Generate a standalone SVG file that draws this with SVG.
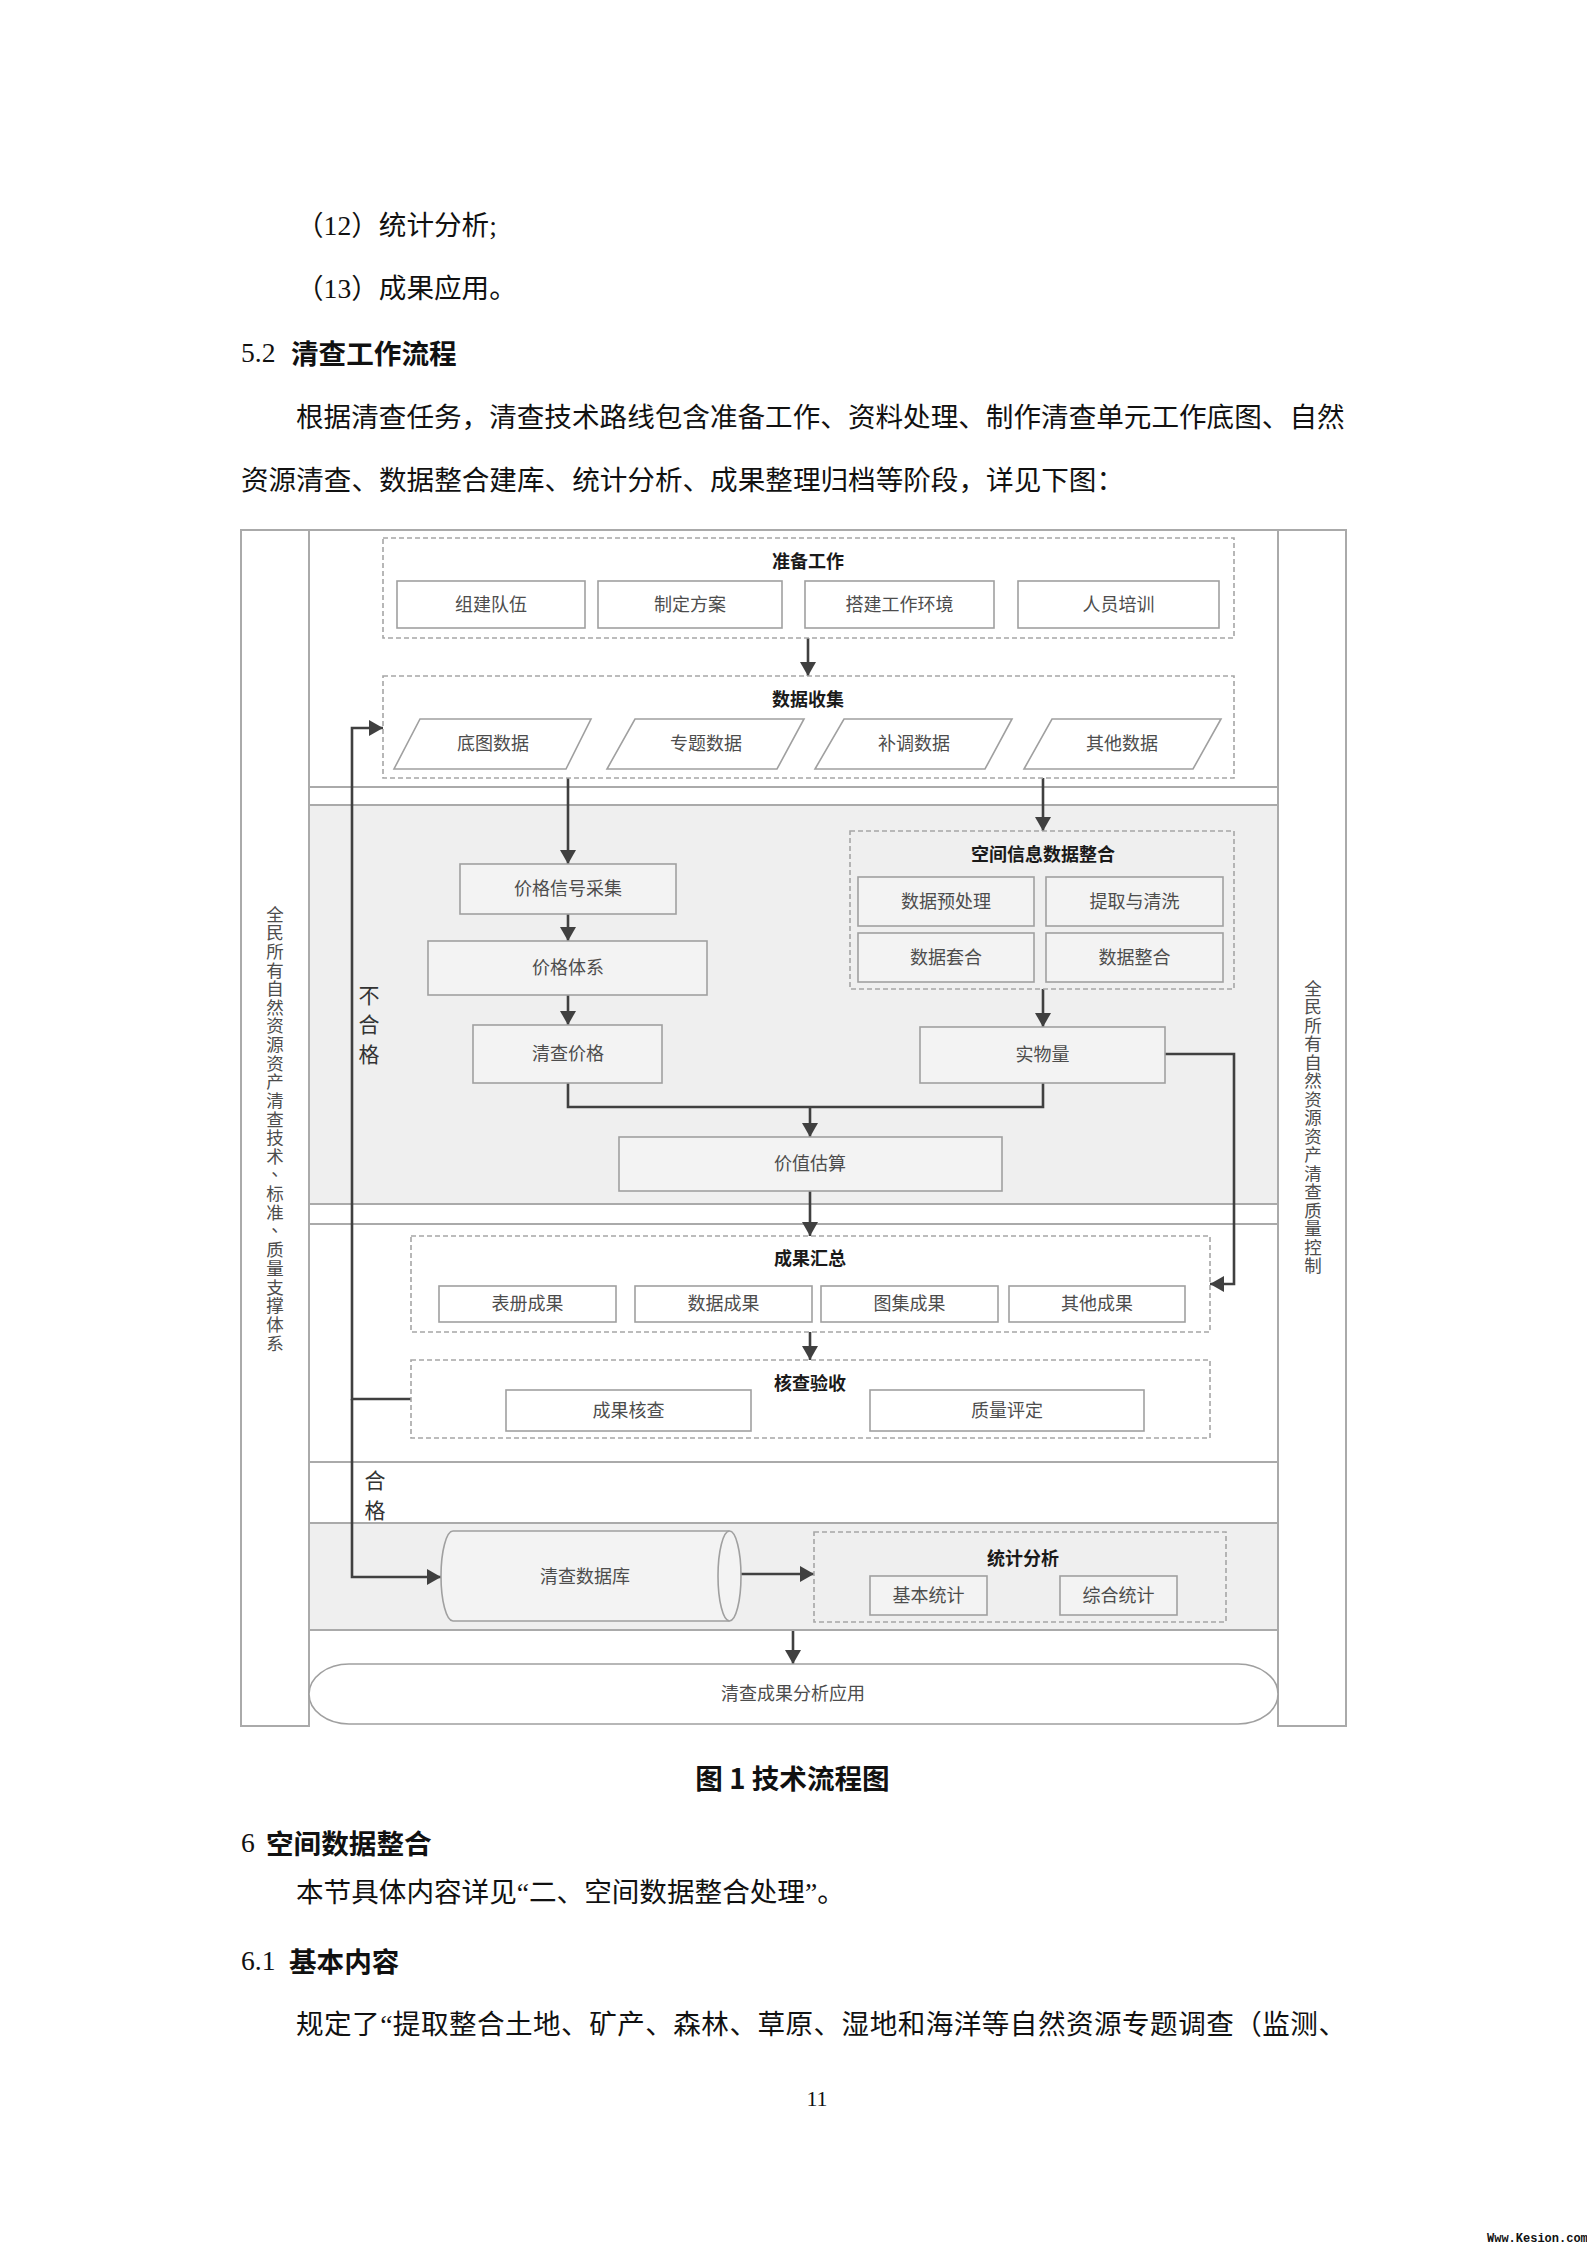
<svg xmlns="http://www.w3.org/2000/svg" width="1587" height="2245" viewBox="0 0 1587 2245">
<style>
.body{font-family:"Liberation Serif","Noto Sans CJK SC",serif;font-size:27.6px;fill:#111;dominant-baseline:central}
.head{font-family:"Noto Sans CJK SC","Liberation Sans",sans-serif;font-size:27.6px;font-weight:bold;fill:#111;dominant-baseline:central}
.headn{font-family:"Liberation Serif",serif;font-size:27.6px;fill:#111;dominant-baseline:central}
.frame{fill:none;stroke:#aaaaaa;stroke-width:2}
.band{fill:#efefef}
.box{fill:#ffffff;stroke:#a0a0a0;stroke-width:1.6}
.gbox{fill:#f3f3f3;stroke:#a0a0a0;stroke-width:1.6}
.dash{fill:none;stroke:#a6a6a6;stroke-width:1.6;stroke-dasharray:5 3}
.lbl{font-family:"Liberation Serif","Noto Sans CJK SC",serif;font-size:18px;fill:#4d4d4d;text-anchor:middle;dominant-baseline:central}
.ttl{font-family:"Noto Sans CJK SC","Liberation Sans",sans-serif;font-size:18px;font-weight:bold;fill:#1a1a1a;text-anchor:middle;dominant-baseline:central}
.vt{font-family:"Noto Sans CJK SC","Liberation Serif",serif;font-size:17.5px;fill:#4d4d4d;text-anchor:middle;dominant-baseline:central}
.ft{font-family:"Liberation Serif","Noto Sans CJK SC",serif;font-size:21px;fill:#333;text-anchor:middle;dominant-baseline:central}
.conn{fill:none;stroke:#404040;stroke-width:2.6}
.arr{fill:none;stroke:#404040;stroke-width:2.6;marker-end:url(#ah)}
</style>
<defs>
<marker id="ah" markerUnits="userSpaceOnUse" markerWidth="16" markerHeight="18" refX="14" refY="8" orient="auto">
<path d="M0,0 L14,8 L0,16 Z" fill="#404040"/>
</marker>
</defs>
<rect x="0" y="0" width="1587" height="2245" fill="#ffffff"/>

<g id="page-text">
<text class="body" x="296" y="225">（12）统计分析;</text>
<text class="body" x="296" y="288">（13）成果应用。</text>
<text class="headn" x="241" y="352">5.2</text>
<text class="head" x="291" y="352">清查工作流程</text>
<text class="body" x="296" y="417">根据清查任务，清查技术路线包含准备工作、资料处理、制作清查单元工作底图、自然</text>
<text class="body" x="241" y="480">资源清查、数据整合建库、统计分析、成果整理归档等阶段，详见下图：</text>
<text class="head" x="792.5" y="1777" text-anchor="middle">图 1 技术流程图</text>
<text class="headn" x="241" y="1842">6</text>
<text class="head" x="266" y="1842">空间数据整合</text>
<text class="body" x="296" y="1892">本节具体内容详见“二、空间数据整合处理”。</text>
<text class="headn" x="241" y="1960">6.1</text>
<text class="head" x="289" y="1960">基本内容</text>
<text class="body" x="296" y="2024" textLength="1050" lengthAdjust="spacing">规定了“提取整合土地、矿产、森林、草原、湿地和海洋等自然资源专题调查（监测、</text>
<text x="817" y="2098" font-family="Liberation Serif, serif" font-size="22" fill="#111" text-anchor="middle" dominant-baseline="central">11</text>
<text x="1487" y="2242" font-family="Liberation Mono, monospace" font-size="12" font-weight="bold" fill="#111">Www.Kesion.com</text>
</g>

<g id="frame">
<rect class="band" x="309" y="805" width="969" height="399"/>
<rect class="band" x="309" y="1523" width="969" height="107"/>
<line class="frame" x1="241" y1="530" x2="1346" y2="530"/>
<rect class="frame" x="241" y="530" width="68" height="1196"/>
<rect class="frame" x="1278" y="530" width="68" height="1196"/>
<line class="frame" x1="309" y1="787" x2="1278" y2="787"/>
<line class="frame" x1="309" y1="805" x2="1278" y2="805"/>
<line class="frame" x1="309" y1="1204" x2="1278" y2="1204"/>
<line class="frame" x1="309" y1="1224" x2="1278" y2="1224"/>
<line class="frame" x1="309" y1="1462" x2="1278" y2="1462"/>
<line class="frame" x1="309" y1="1523" x2="1278" y2="1523"/>
<line class="frame" x1="309" y1="1630" x2="1278" y2="1630"/>
<text class="vt" x="275 275 275 275 275 275 275 275 275 275 275 275 275 275 280 275 275 280 275 275 275 275 275 275" y="913 931.7 950.3 969 987.6 1006.3 1024.9 1043.6 1062.2 1080.9 1099.5 1118.2 1136.8 1155.5 1168 1192.8 1211.4 1224 1248.7 1267.4 1286 1304.7 1323.3 1342">全民所有自然资源资产清查技术、标准、质量支撑体系</text>
<text class="vt" x="1313 1313 1313 1313 1313 1313 1313 1313 1313 1313 1313 1313 1313 1313 1313 1313" y="987 1005.5 1024 1042.5 1061 1079.5 1098 1116.5 1135 1153.5 1172 1190.5 1209 1227.5 1246 1264.5">全民所有自然资源资产清查质量控制</text>
</g>

<g id="connectors">
<path class="arr" d="M808,638 V676"/>
<path class="arr" d="M568,778 V864"/>
<path class="arr" d="M1043,778 V831"/>
<path class="arr" d="M568,914 V941"/>
<path class="arr" d="M568,995 V1025"/>
<path class="arr" d="M1043,989 V1027"/>
<path class="conn" d="M568,1083 V1107 H1043 V1083"/>
<path class="arr" d="M810,1107 V1137"/>
<path class="arr" d="M810,1191 V1236"/>
<path class="arr" d="M1165,1054 H1234 V1284 H1210"/>
<path class="arr" d="M810,1332 V1360"/>
<path class="arr" d="M411,1399 H352 V728 H383"/>
<path class="arr" d="M352,1399 V1577 H441"/>
<path class="arr" d="M741,1574 H814"/>
<path class="arr" d="M793,1631 V1664"/>
<text class="ft" x="369 369 369" y="996 1025 1055">不合格</text>
<text class="ft" x="375 375" y="1481 1511">合格</text>
</g>

<g id="zhunbei">
<rect class="dash" x="383" y="538" width="851" height="100"/>
<text class="ttl" x="808" y="560">准备工作</text>
<rect class="box" x="397" y="581" width="188" height="47"/>
<text class="lbl" x="491" y="604.5">组建队伍</text>
<rect class="box" x="598" y="581" width="184" height="47"/>
<text class="lbl" x="690" y="604.5">制定方案</text>
<rect class="box" x="805" y="581" width="189" height="47"/>
<text class="lbl" x="899.5" y="604.5">搭建工作环境</text>
<rect class="box" x="1018" y="581" width="201" height="47"/>
<text class="lbl" x="1118.5" y="604.5">人员培训</text>
</g>

<g id="shujushouji">
<rect class="dash" x="383" y="676" width="851" height="102"/>
<text class="ttl" x="808" y="698">数据收集</text>
<polygon class="box" points="420,719 591,719 566,769 394,769"/>
<text class="lbl" x="493" y="744">底图数据</text>
<polygon class="box" points="635,719 804,719 777,769 607,769"/>
<text class="lbl" x="706" y="744">专题数据</text>
<polygon class="box" points="844,719 1012,719 985,769 815,769"/>
<text class="lbl" x="914" y="744">补调数据</text>
<polygon class="box" points="1052,719 1221,719 1193,769 1024,769"/>
<text class="lbl" x="1122" y="744">其他数据</text>
</g>

<g id="jiagexinhao">
<rect class="gbox" x="460" y="864" width="216" height="50"/>
<text class="lbl" x="568" y="889">价格信号采集</text>
</g>
<g id="jiagetixi">
<rect class="gbox" x="428" y="941" width="279" height="54"/>
<text class="lbl" x="568" y="968">价格体系</text>
</g>
<g id="qingchajiage">
<rect class="gbox" x="473" y="1025" width="189" height="58"/>
<text class="lbl" x="568" y="1054">清查价格</text>
</g>

<g id="kongjian">
<rect class="dash" x="850" y="831" width="384" height="158"/>
<text class="ttl" x="1043" y="853">空间信息数据整合</text>
<rect class="gbox" x="858" y="877" width="176" height="49"/>
<text class="lbl" x="946" y="901.5">数据预处理</text>
<rect class="gbox" x="1046" y="877" width="177" height="49"/>
<text class="lbl" x="1134.5" y="901.5">提取与清洗</text>
<rect class="gbox" x="858" y="933" width="176" height="49"/>
<text class="lbl" x="946" y="957.5">数据套合</text>
<rect class="gbox" x="1046" y="933" width="177" height="49"/>
<text class="lbl" x="1134.5" y="957.5">数据整合</text>
</g>

<g id="shiwuliang">
<rect class="gbox" x="920" y="1027" width="245" height="56"/>
<text class="lbl" x="1042.5" y="1055">实物量</text>
</g>

<g id="jiazhigusuan">
<rect class="gbox" x="619" y="1137" width="383" height="54"/>
<text class="lbl" x="810" y="1164">价值估算</text>
</g>

<g id="chengguohuizong">
<rect class="dash" x="411" y="1236" width="799" height="96"/>
<text class="ttl" x="810" y="1257">成果汇总</text>
<rect class="box" x="439" y="1286" width="177" height="36"/>
<text class="lbl" x="527.5" y="1304">表册成果</text>
<rect class="box" x="635" y="1286" width="177" height="36"/>
<text class="lbl" x="723.5" y="1304">数据成果</text>
<rect class="box" x="821" y="1286" width="177" height="36"/>
<text class="lbl" x="909.5" y="1304">图集成果</text>
<rect class="box" x="1009" y="1286" width="176" height="36"/>
<text class="lbl" x="1097" y="1304">其他成果</text>
</g>

<g id="hechayanshou">
<rect class="dash" x="411" y="1360" width="799" height="78"/>
<text class="ttl" x="810" y="1382">核查验收</text>
<rect class="box" x="506" y="1390" width="245" height="41"/>
<text class="lbl" x="628.5" y="1410.5">成果核查</text>
<rect class="box" x="870" y="1390" width="274" height="41"/>
<text class="lbl" x="1007" y="1410.5">质量评定</text>
</g>

<g id="shujuku">
<path class="gbox" d="M453,1531 H729.5 A11.5,45 0 0 1 729.5,1621 H453 A12,45 0 0 1 453,1531 Z"/>
<path fill="none" stroke="#a0a0a0" stroke-width="1.6" d="M729.5,1531 A11.5,45 0 0 0 729.5,1621"/>
<text class="lbl" x="585" y="1577">清查数据库</text>
</g>

<g id="tongjifenxi">
<rect class="dash" x="814" y="1532" width="412" height="90"/>
<text class="ttl" x="1023" y="1557">统计分析</text>
<rect class="gbox" x="870" y="1576" width="117" height="39"/>
<text class="lbl" x="928.5" y="1595.5">基本统计</text>
<rect class="gbox" x="1060" y="1576" width="117" height="39"/>
<text class="lbl" x="1118.5" y="1595.5">综合统计</text>
</g>

<g id="yingyong">
<rect class="box" x="309" y="1664" width="969" height="60" rx="40" ry="30"/>
<text class="lbl" x="793" y="1694">清查成果分析应用</text>
</g>
</svg>
